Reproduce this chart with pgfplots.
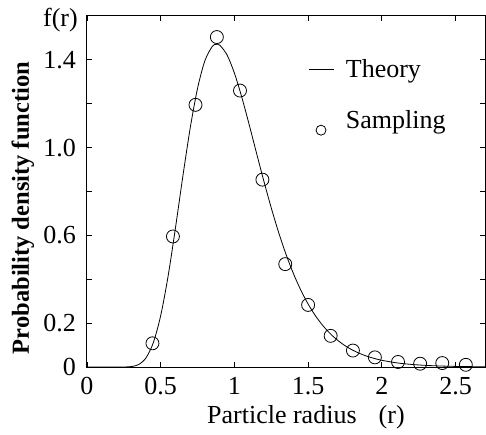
\documentclass[border=0pt]{standalone}
\usepackage{fontspec}
\setmainfont{Liberation Serif}
\usepackage{pgfplots}
\pgfplotsset{compat=1.18}
\begin{document}
\begin{tikzpicture}
\begin{axis}[
  scale only axis,
  width=398pt, height=351pt,
  xmin=0, xmax=2.7, ymin=0, ymax=1.6,
  xtick={0,0.5,1,1.5,2,2.5},
  xticklabels={0,0.5,1,1.5,2,2.5},
  ytick={0,0.2,0.4,0.6,0.8,1.0,1.2,1.4},
  yticklabels={0,0.2,{},0.6,{},1.0,{},1.4},
  tick align=inside,
  major tick length=5pt,
  tick style={black, line width=0.8pt},
  axis line style={line width=1pt},
  ticklabel style={font=\fontsize{26}{30}\selectfont},
  yticklabel style={inner sep=0pt, anchor=east, xshift=-11pt},
  xticklabel style={inner sep=0pt, anchor=north, yshift=-10pt},
  xlabel={Particle radius\hspace{0.6em} (r)},
  ylabel={\bfseries Probability density function},
  xlabel style={at={([yshift=-56pt]axis description cs:0.55,0)}, anchor=base, font=\fontsize{26}{30}\selectfont, inner sep=0pt},
  ylabel style={at={([xshift=-58pt]axis description cs:0,0.453)}, anchor=base, font=\fontsize{24.5}{28}\selectfont, inner sep=0pt},
  legend style={draw=none, fill=none, at={(axis description cs:0.5475,0.887)}, anchor=north west, font=\fontsize{26}{30}\selectfont, row sep=27pt, /tikz/every odd column/.append style={column sep=10pt}},
  legend cell align=left,
]
\addplot[black, line width=0.8pt, smooth,
  legend image code/.code={\draw[black, line width=0.8pt] (0pt,0pt) -- (25pt,0pt);}]
coordinates {
(0,0) (0.2,0) (0.25,0.0002) (0.30,0.0019) (0.35,0.0111) (0.40,0.0414) (0.45,0.1110)
(0.50,0.2346) (0.55,0.4136) (0.60,0.6336) (0.65,0.8682) (0.70,1.0889) (0.75,1.2703)
(0.80,1.3967) (0.85,1.4613) (0.875,1.4705) (0.90,1.4671) (0.95,1.4227) (1.00,1.3395)
(1.05,1.2299) (1.10,1.1053) (1.15,0.9750) (1.20,0.8467) (1.25,0.7252) (1.30,0.6135)
(1.35,0.5138) (1.40,0.4263) (1.45,0.3511) (1.50,0.2871) (1.55,0.2334) (1.60,0.1888)
(1.65,0.1520) (1.70,0.1219) (1.75,0.0974) (1.80,0.0776) (1.85,0.0617) (1.90,0.0489)
(1.95,0.0388) (2.00,0.0306) (2.10,0.0190) (2.20,0.0118) (2.30,0.0073) (2.40,0.0045)
(2.50,0.0028) (2.60,0.0017) (2.70,0.0010)
};
\addlegendentry{Theory}
\addplot[only marks, mark=o, mark size=6.5pt, black, line width=0.8pt,
  legend image code/.code={\draw[black, line width=0.8pt] (12.5pt,-10pt) circle (5pt);}]
coordinates {
(0.444,0.108) (0.583,0.595) (0.736,1.195) (0.881,1.504) (1.038,1.260) (1.190,0.854)
(1.345,0.469) (1.500,0.283) (1.653,0.142) (1.804,0.075) (1.953,0.044) (2.110,0.023)
(2.260,0.015) (2.410,0.018) (2.570,0.010)
};
\addlegendentry{Sampling}
\end{axis}
\node[anchor=base east, inner sep=0pt, font=\fontsize{26}{30}\selectfont] at ([xshift=-9pt,yshift=-11pt]current axis.north west) {f(r)};
\path (current axis.south west) ++(-87pt,-67pt) rectangle ++(486pt,434pt);
\end{tikzpicture}
\end{document}
